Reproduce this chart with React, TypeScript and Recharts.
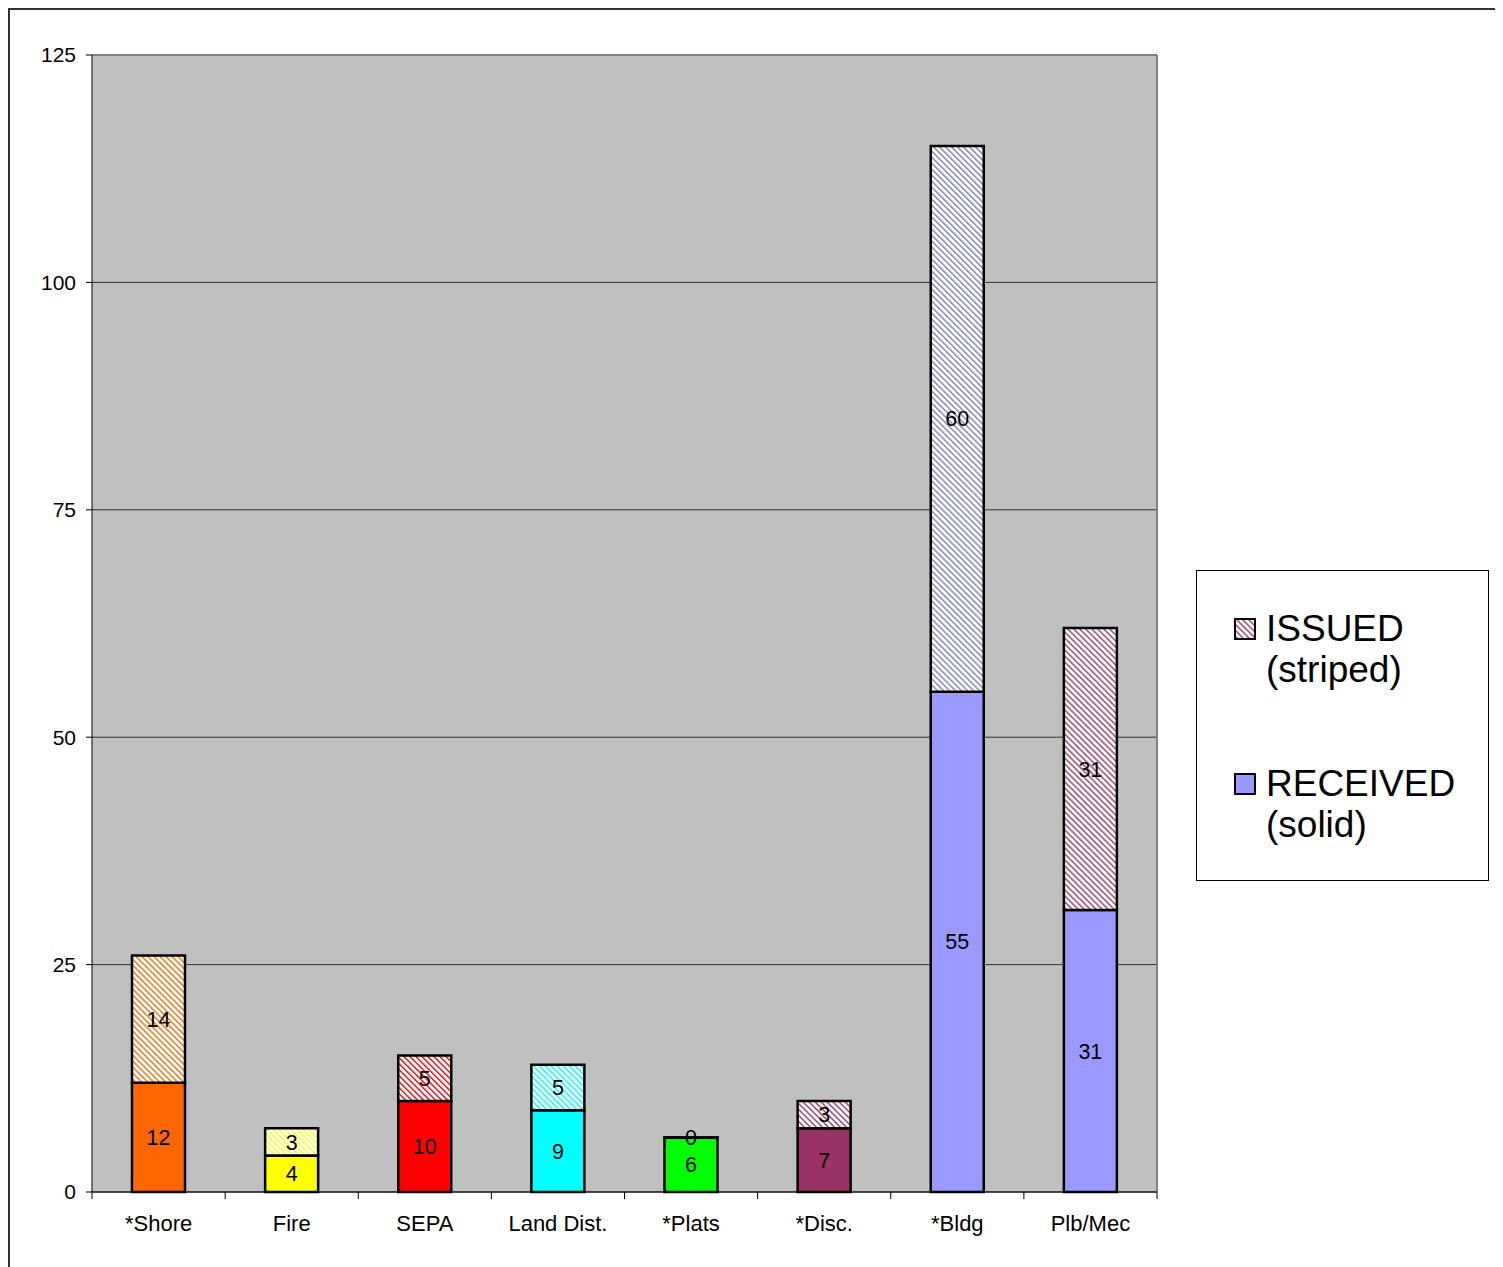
import React from 'react';
import { BarChart, Bar, XAxis, YAxis, CartesianGrid, Cell, LabelList, Legend, ReferenceLine } from 'recharts';

const categories = ['*Shore', 'Fire', 'SEPA', 'Land Dist.', '*Plats', '*Disc.', '*Bldg', 'Plb/Mec'];
const received = [12, 4, 10, 9, 6, 7, 55, 31];
const issued = [14, 3, 5, 5, 0, 3, 60, 31];
const solidColors = ['#FF6600', '#FFFF00', '#FF0000', '#00FFFF', '#00FF00', '#993366', '#9999FF', '#9999FF'];
const stripeColors = ['#FF6600', '#FFFF00', '#FF0000', '#00FFFF', '#00FF00', '#993366', '#7A7AB0', '#993366'];
const yTicks = [0, 25, 50, 75, 100, 125];
const legendItems = [
  { line1: 'ISSUED', line2: '(striped)', color: '#993366', striped: true },
  { line1: 'RECEIVED', line2: '(solid)', color: '#9999FF', striped: false },
];

const data = categories.map((name, i) => ({ name, received: received[i], issued: issued[i] }));

const FONT = '"Liberation Sans", Arial, Helvetica, sans-serif';

function StripePattern({ id, color }: { id: string; color: string }) {
  return (
    <pattern id={id} patternUnits="userSpaceOnUse" width={4.24} height={4.24} patternTransform="rotate(-45)">
      <rect x={0} y={0} width={4.24} height={4.24} fill="#FFFFFF" />
      <rect x={0} y={0} width={1.35} height={4.24} fill={color} />
    </pattern>
  );
}

function CategoryTick(props: any) {
  const { x, y, payload, index, visibleTicksCount, width } = props;
  const band = visibleTicksCount && width ? Number(width) / visibleTicksCount : 0;
  return (
    <g>
      {band > 0 && <line x1={x - band / 2} x2={x - band / 2} y1={y} y2={y + 7} stroke="#000" strokeWidth={1} />}
      {band > 0 && index === visibleTicksCount - 1 && (
        <line x1={x + band / 2} x2={x + band / 2} y1={y} y2={y + 7} stroke="#000" strokeWidth={1} />
      )}
      <text x={x} y={y + 23} dy="0.71em" textAnchor="middle" fontSize={22} fill="#000" fontFamily={FONT}>
        {payload.value}
      </text>
    </g>
  );
}

function LegendContent() {
  return (
    <div
      style={{
        width: '100%',
        height: '100%',
        boxSizing: 'border-box',
        border: '1px solid #000',
        background: '#fff',
        position: 'relative',
        fontFamily: FONT,
        color: '#000',
      }}
    >
      {legendItems.map((item, i) => (
        <div key={item.line1} style={{ position: 'absolute', left: 37, top: 37 + i * 155 }}>
          <svg width={22} height={22} style={{ position: 'absolute', left: 0, top: 10 }}>
            <defs>
              <StripePattern id={`legend-stripe-${i}`} color={item.color} />
            </defs>
            <rect
              x={1}
              y={1}
              width={20}
              height={20}
              fill={item.striped ? `url(#legend-stripe-${i})` : item.color}
              stroke="#000"
              strokeWidth={2}
            />
          </svg>
          <div style={{ position: 'absolute', left: 32, top: 0, fontSize: 37, lineHeight: '41px', whiteSpace: 'nowrap' }}>
            {item.line1}
            <br />
            {item.line2}
          </div>
        </div>
      ))}
    </div>
  );
}

export default function App() {
  return (
    <div style={{ position: 'relative', width: 1495, height: 1259, fontFamily: FONT }}>
      <div
        style={{
          position: 'absolute',
          left: 0,
          top: 0,
          width: 1495,
          height: 1259,
          boxSizing: 'border-box',
          borderLeft: '2px solid #333',
          borderTop: '2px solid #333',
        }}
      />
      <div style={{ position: 'absolute', left: 0, top: 0 }}>
        <BarChart
          width={1495}
          height={1259}
          data={data}
          margin={{ top: 47, right: 346, bottom: 35, left: 1 }}
          barSize={53}
        >
          <defs>
            {stripeColors.map((c, i) => (
              <StripePattern key={i} id={`stripe-${i}`} color={c} />
            ))}
          </defs>
          <CartesianGrid horizontal vertical={false} fill="#C0C0C0" stroke="#333" strokeWidth={1} />
          <CartesianGrid
            horizontal={false}
            vertical
            verticalCoordinatesGenerator={({ offset }: any) => [offset.left + offset.width]}
            stroke="#808080"
            strokeWidth={2}
          />
          <XAxis
            dataKey="name"
            axisLine={{ stroke: '#000', strokeWidth: 1 }}
            tickLine={false}
            tickSize={0}
            tickMargin={0}
            height={40}
            interval={0}
            tick={<CategoryTick />}
          />
          <YAxis
            domain={[0, 125]}
            ticks={yTicks}
            width={83}
            axisLine={{ stroke: '#000', strokeWidth: 1 }}
            tickLine={{ stroke: '#000', strokeWidth: 1 }}
            tickSize={6}
            tickMargin={10}
            interval={0}
            tick={{ fontSize: 21, fill: '#000', fontFamily: FONT }}
          />
          <ReferenceLine y={125} stroke="#808080" strokeWidth={2} />
          <Bar dataKey="received" stackId="a" stroke="#000" strokeWidth={2.5} isAnimationActive={false}>
            {data.map((d, i) => (
              <Cell key={d.name} fill={solidColors[i]} />
            ))}
            <LabelList dataKey="received" position="center" fill="#000" fontSize={21.5} fontFamily={FONT} />
          </Bar>
          <Bar dataKey="issued" stackId="a" stroke="#000" strokeWidth={2.5} minPointSize={0.01} isAnimationActive={false}>
            {data.map((d, i) => (
              <Cell key={d.name} fill={`url(#stripe-${i})`} />
            ))}
            <LabelList dataKey="issued" position="center" fill="#000" fontSize={21.5} fontFamily={FONT} />
          </Bar>
          <Legend
            layout="vertical"
            align="center"
            verticalAlign="middle"
            content={() => <LegendContent />}
            wrapperStyle={{ left: 1188, top: 562, width: 293, height: 311 }}
          />
        </BarChart>
      </div>
    </div>
  );
}
